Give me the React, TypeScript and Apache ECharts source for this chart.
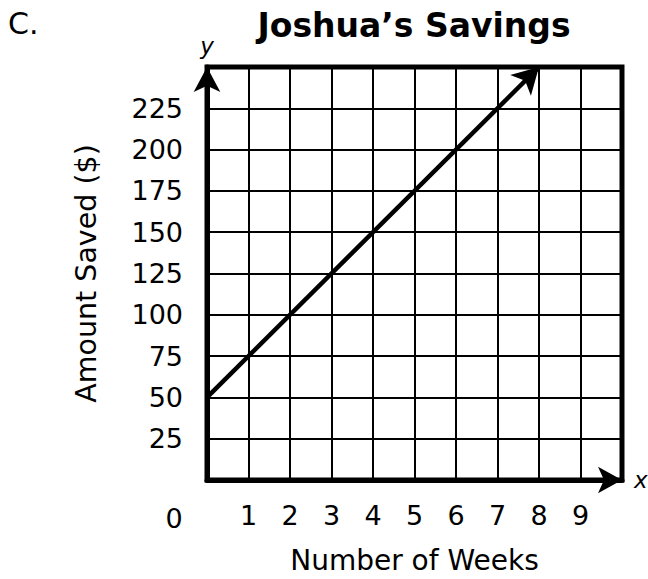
import React, { useEffect, useRef } from "react";
import * as echarts from "echarts";

const weeks = [0, 8];
const amountSaved = [50, 250];
const xTickLabels = ["1", "2", "3", "4", "5", "6", "7", "8", "9"];
const yTickLabels = ["25", "50", "75", "100", "125", "150", "175", "200", "225"];
const titleText = "Joshua’s Savings";
const panelLabel = "C.";
const xName = "Number of Weeks";
const yName = "Amount Saved ($)";

const FONT = "DejaVu Sans";

export default function App() {
  const ref = useRef<HTMLDivElement>(null);
  useEffect(() => {
    if (!ref.current) return;
    const chart = echarts.init(ref.current, undefined, { renderer: "svg" });
    const G = { left: 207, top: 67, width: 415, height: 415 };
    const option: any = {
      animation: false,
      backgroundColor: "#fff",
      grid: {
        ...G,
        show: true,
        borderColor: "#000",
        borderWidth: 5,
        backgroundColor: "transparent",
      },
      xAxis: {
        type: "value",
        min: 0,
        max: 10,
        interval: 1,
        name: xName,
        nameLocation: "middle",
        nameGap: 66,
        nameTextStyle: { fontFamily: FONT, fontSize: 28, color: "#000" },
        axisLine: {
          show: true,
          symbol: ["none", "arrow"],
          symbolSize: [20, 24],
          symbolOffset: [0, 0],
          lineStyle: { color: "#000", width: 5 },
        },
        axisTick: { show: false },
        splitLine: { show: true, lineStyle: { color: "#000", width: 2 } },
        axisLabel: {
          fontFamily: FONT,
          fontSize: 27,
          color: "#000",
          margin: 22,
          formatter: (v: number) => (xTickLabels.includes(String(v)) ? String(v) : ""),
        },
      },
      yAxis: {
        type: "value",
        min: 0,
        max: 250,
        interval: 25,
        name: yName,
        nameLocation: "middle",
        nameGap: 106,
        nameTextStyle: { fontFamily: FONT, fontSize: 28.5, color: "#000" },
        axisLine: {
          show: true,
          symbol: ["none", "arrow"],
          symbolSize: [20, 25],
          symbolOffset: [0, 0],
          lineStyle: { color: "#000", width: 5 },
        },
        axisTick: { show: false },
        splitLine: { show: true, lineStyle: { color: "#000", width: 2 } },
        axisLabel: {
          fontFamily: FONT,
          fontSize: 27,
          color: "#000",
          margin: 24,
          formatter: (v: number) => (yTickLabels.includes(String(v)) ? String(v) : ""),
        },
      },
      series: [
        {
          type: "line",
          data: [],
          silent: true,
          markLine: {
            silent: true,
            animation: false,
            symbol: ["none", "arrow"],
            symbolSize: [22, 26],
            symbolOffset: [0, 0],
            label: { show: false },
            lineStyle: { color: "#000", width: 4.5, type: "solid" },
            data: [
              [
                { coord: [weeks[0], amountSaved[0]] },
                { coord: [weeks[1], amountSaved[1]] },
              ],
            ],
          },
        },
      ],
      graphic: [
        {
          type: "text",
          x: 8,
          y: 23,
          style: { text: panelLabel, font: `30px '${FONT}'`, fill: "#000", verticalAlign: "middle", align: "left" },
        },
        {
          type: "text",
          x: 414,
          y: 25,
          style: { text: titleText, font: `bold 33px '${FONT}'`, fill: "#000", verticalAlign: "middle", align: "center" },
        },
        {
          type: "text",
          x: 207,
          y: 46,
          style: { text: "y", font: `italic 23px '${FONT}'`, fill: "#000", verticalAlign: "middle", align: "center" },
        },
        {
          type: "text",
          x: 634,
          y: 480,
          style: { text: "x", font: `italic 23px '${FONT}'`, fill: "#000", verticalAlign: "middle", align: "left" },
        },
        {
          type: "text",
          x: 174,
          y: 518,
          style: { text: "0", font: `27px '${FONT}'`, fill: "#000", verticalAlign: "middle", align: "center" },
        },
      ],
    };
    chart.setOption(option);
    return () => chart.dispose();
  }, []);
  return (
    <div
      ref={ref}
      style={{ position: "fixed", left: 0, top: 0, width: 648, height: 579 }}
    />
  );
}
